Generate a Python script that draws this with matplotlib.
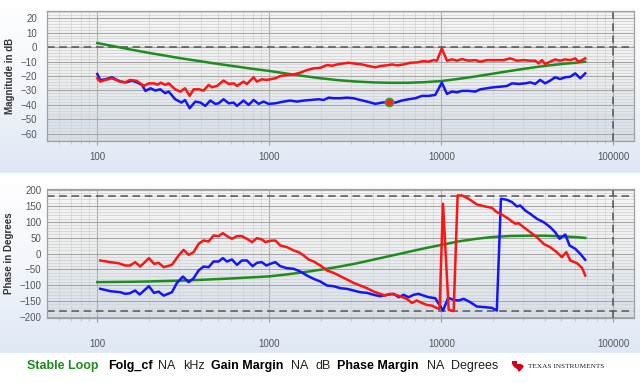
import numpy as np
import matplotlib
matplotlib.use("Agg")
import matplotlib.pyplot as plt
from matplotlib.colors import LinearSegmentedColormap
from matplotlib.ticker import LogLocator, MultipleLocator, FixedLocator, FixedFormatter, NullFormatter
import matplotlib.patches as mpatches

# ---------------- data (log10 of frequency in Hz, value) ----------------
red_mag_logf = [2.000, 2.017, 2.047, 2.085, 2.134, 2.163, 2.190, 2.230, 2.250, 2.270, 2.300, 2.330, 2.350, 2.370,
                2.395, 2.415, 2.453, 2.483, 2.510, 2.537, 2.560, 2.590, 2.618, 2.647, 2.667, 2.696, 2.734, 2.764,
                2.793, 2.812, 2.850, 2.870, 2.909, 2.928, 2.957, 2.986, 3.035, 3.064, 3.103, 3.142, 3.180, 3.219,
                3.258, 3.297, 3.336, 3.365, 3.394, 3.432, 3.461, 3.500, 3.539, 3.578, 3.617, 3.645, 3.684, 3.713,
                3.742, 3.781, 3.820, 3.858, 3.897, 3.926, 3.955, 3.975, 4.003, 4.033, 4.062, 4.091, 4.120, 4.159,
                4.198, 4.227, 4.265, 4.314, 4.362, 4.401, 4.440, 4.478, 4.517, 4.546, 4.566, 4.585, 4.604, 4.633,
                4.662, 4.691, 4.720, 4.750, 4.779, 4.798, 4.818, 4.837]
red_mag_db = [-21.6, -23.9, -22.7, -21.6, -23.9, -24.4, -22.7, -23.4, -25.1, -26.9, -25.1, -25.1, -26.0, -24.6,
              -26.2, -25.1, -29.2, -30.8, -28.5, -33.8, -29.2, -29.2, -30.1, -26.2, -27.8, -26.9, -23.2, -25.5,
              -25.1, -26.9, -23.9, -25.5, -20.9, -23.9, -22.3, -22.7, -21.6, -20.0, -19.3, -18.9, -17.7, -15.9,
              -14.7, -14.3, -12.4, -12.9, -12.0, -11.3, -10.8, -11.5, -12.0, -13.1, -14.0, -13.1, -12.6, -12.0,
              -12.6, -12.0, -10.8, -10.6, -9.7, -10.1, -9.0, -9.4, -0.9, -9.4, -8.5, -9.4, -8.3, -9.4,
              -9.0, -10.1, -9.0, -9.0, -9.0, -7.8, -9.4, -9.0, -9.4, -9.4, -11.3, -9.0, -11.7, -10.1,
              -8.5, -9.4, -8.5, -9.0, -7.8, -10.1, -9.0, -7.8]

blue_mag_logf = [2.000, 2.017, 2.047, 2.085, 2.134, 2.170, 2.200, 2.230, 2.260, 2.280, 2.310, 2.337, 2.366, 2.395,
                 2.415, 2.453, 2.490, 2.510, 2.537, 2.570, 2.600, 2.628, 2.657, 2.686, 2.705, 2.734, 2.764, 2.793,
                 2.812, 2.850, 2.880, 2.909, 2.938, 2.967, 2.996, 3.035, 3.084, 3.122, 3.161, 3.200, 3.239, 3.287,
                 3.316, 3.345, 3.374, 3.413, 3.452, 3.490, 3.529, 3.568, 3.617, 3.655, 3.694, 3.733, 3.771, 3.810,
                 3.849, 3.887, 3.926, 3.965, 4.003, 4.033, 4.062, 4.091, 4.120, 4.159, 4.198, 4.227, 4.265, 4.304,
                 4.343, 4.382, 4.411, 4.450, 4.488, 4.517, 4.546, 4.575, 4.604, 4.633, 4.662, 4.691, 4.720, 4.750,
                 4.779, 4.808, 4.837]
blue_mag_db = [-18.6, -22.8, -22.3, -20.9, -23.9, -24.4, -23.2, -24.4, -26.2, -30.3, -28.5, -30.1, -29.2, -31.9,
               -30.8, -36.1, -38.4, -36.6, -42.3, -37.7, -38.4, -40.7, -37.0, -39.3, -38.9, -36.1, -38.9, -38.4,
               -40.7, -37.0, -40.0, -36.6, -39.3, -37.7, -39.3, -38.9, -37.7, -37.0, -37.7, -37.0, -36.6, -36.1,
               -36.6, -35.0, -35.4, -35.4, -35.0, -35.4, -36.6, -37.7, -39.3, -38.4, -38.0, -38.4, -37.0, -36.1,
               -35.4, -33.8, -33.8, -33.1, -24.6, -32.4, -30.8, -31.3, -30.3, -30.3, -30.8, -29.2, -28.5, -27.8,
               -27.4, -26.9, -25.1, -25.5, -25.1, -24.4, -25.5, -22.7, -25.1, -23.2, -20.9, -22.1, -20.9, -20.5,
               -18.2, -21.6, -18.2]

green_mag_logf = [2.0, 2.1, 2.2, 2.3, 2.4, 2.5, 2.6, 2.7, 2.8, 2.9, 3.0, 3.1, 3.2, 3.3, 3.4, 3.5, 3.6, 3.7, 3.8,
                  3.9, 4.0, 4.1, 4.2, 4.3, 4.4, 4.5, 4.6, 4.7, 4.8, 4.837]
green_mag_db = [2.8, 0.5, -1.8, -4.0, -6.0, -8.0, -9.8, -11.6, -13.3, -15.0, -16.5, -18.3, -20.0, -21.6, -22.9,
                -23.8, -24.4, -24.7, -24.7, -24.3, -23.5, -22.0, -20.3, -18.4, -16.5, -14.7, -13.0, -11.7, -10.6,
                -10.1]

red_ph_logf = [2.017, 2.076, 2.124, 2.163, 2.190, 2.220, 2.250, 2.300, 2.330, 2.357, 2.386, 2.434, 2.473, 2.502,
               2.531, 2.560, 2.589, 2.618, 2.647, 2.676, 2.705, 2.730, 2.754, 2.783, 2.812, 2.841, 2.870, 2.900,
               2.928, 2.957, 2.977, 3.006, 3.035, 3.064, 3.103, 3.142, 3.171, 3.200, 3.229, 3.258, 3.297, 3.336,
               3.374, 3.413, 3.452, 3.490, 3.529, 3.568, 3.607, 3.645, 3.674, 3.703, 3.733, 3.762, 3.800, 3.829,
               3.858, 3.887, 3.916, 3.946, 3.975, 3.990, 4.010, 4.043, 4.072, 4.095, 4.120, 4.159, 4.207, 4.255,
               4.294, 4.323, 4.352, 4.391, 4.430, 4.449, 4.478, 4.517, 4.556, 4.595, 4.633, 4.672, 4.701, 4.727,
               4.750, 4.789, 4.818, 4.837]
red_ph_deg = [-22, -27.3, -30.5, -37.8, -37.8, -27.3, -41, -14.7, -32.5, -29.4, -43, -35.7, -6.3, 11.5,
              -4.2, 4.2, 30.4, 41, 37.8, 56.7, 54.6, 64, 54.6, 46.2, 54.6, 54.6, 46.2, 35.7,
              48.3, 44, 36, 40, 41, 25.2, 19.9, 9.4, 4.2, -6.3, -18.9, -25.2, -37.8, -53.5,
              -60.9, -71.4, -81.9, -92.4, -100.8, -109.2, -119.7, -127, -132.4, -127, -130, -134.5, -143, -155.5,
              -148, -155.5, -161.8, -164, -172, -174.5, 156.5, -177, -181.6, 182.7, 182.7, 172, 154.3, 148,
              143.8, 130, 122.8, 109, 93.5, 95.6, 83, 67.2, 51.4, 30.4, 19.9, 4.2, -11.6, 4.2,
              -22, -30.4, -45, -69.3]

blue_ph_logf = [2.017, 2.076, 2.134, 2.163, 2.190, 2.220, 2.246, 2.300, 2.330, 2.357, 2.386, 2.434, 2.463, 2.498,
                2.531, 2.560, 2.589, 2.618, 2.647, 2.676, 2.705, 2.730, 2.754, 2.783, 2.812, 2.841, 2.870, 2.903,
                2.928, 2.957, 2.983, 3.006, 3.035, 3.064, 3.103, 3.142, 3.180, 3.219, 3.258, 3.297, 3.336, 3.374,
                3.413, 3.452, 3.490, 3.529, 3.568, 3.607, 3.645, 3.684, 3.723, 3.752, 3.781, 3.810, 3.839, 3.868,
                3.897, 3.926, 3.965, 4.010, 4.040, 4.072, 4.100, 4.130, 4.168, 4.207, 4.255, 4.294, 4.323, 4.347,
                4.382, 4.411, 4.440, 4.459, 4.488, 4.517, 4.556, 4.595, 4.633, 4.662, 4.688, 4.721, 4.746, 4.779,
                4.808, 4.837]
blue_ph_deg = [-111, -118.6, -121.8, -127, -125, -116.5, -129, -103, -124, -120, -132.5, -122, -92.4, -72.5,
               -90.3, -77.7, -53.5, -41, -43, -25.2, -25.2, -14.7, -25.2, -18.9, -35.7, -22, -22, -39.9,
               -29.4, -27.3, -37.8, -32.5, -27.3, -39.9, -46.2, -48.3, -56.7, -69.3, -79.8, -88.2, -100.8, -103,
               -109.2, -111.3, -116.5, -121.8, -123.9, -130, -134.5, -130, -127, -137.5, -130, -137.5, -130, -127,
               -132.4, -137.5, -140.7, -179.5, -139.6, -146, -148, -142.7, -153, -166.9, -169, -171, -179.5, 172.3,
               169, 161.7, 148, 151, 135.4, 125, 109.2, 98.7, 83, 67.2, 46.2, 59.8, 25.2, 14.7,
               -1, -19.9]

green_ph_logf = [2.0, 2.1, 2.2, 2.3, 2.4, 2.5, 2.6, 2.7, 2.8, 2.9, 3.0, 3.1, 3.2, 3.3, 3.4, 3.5, 3.6, 3.7, 3.8,
                 3.9, 4.0, 4.1, 4.2, 4.3, 4.4, 4.5, 4.6, 4.7, 4.8, 4.837]
green_ph_deg = [-90, -89.5, -89, -88, -86.5, -85, -83, -80.5, -78, -75, -72, -66, -59, -51, -42, -32, -20, -8, 4,
                16, 27, 38, 46, 52, 55, 56, 56, 54, 51, 49]

marker_freq = [4940]
marker_db = [-37.7]

mag_ticks = [-60, -50, -40, -30, -20, -10, 0, 10, 20]
ph_ticks = [-200, -150, -100, -50, 0, 50, 100, 150, 200]
x_ticks = [100, 1000, 10000, 100000]
x_labels = ["100", "1000", "10000", "100000"]

legend_items = [("Stable Loop", "bold", "#1e8c1e", 27), ("Folg_cf", "bold", "black", 108),
                ("NA", "normal", "#222222", 158), ("kHz", "normal", "#222222", 183),
                ("Gain Margin", "bold", "black", 211), ("NA", "normal", "#222222", 291),
                ("dB", "normal", "#222222", 315), ("Phase Margin", "bold", "black", 337),
                ("NA", "normal", "#222222", 427), ("Degrees", "normal", "#222222", 451)]

# ---------------- figure ----------------
plt.rcParams['font.family'] = ['Liberation Sans', 'DejaVu Sans']
W, H = 640, 383
fig = plt.figure(figsize=(W / 100, H / 100), dpi=100)
fig.patch.set_facecolor('white')


def rect(x0, y0, x1, y1):
    return [x0 / W, 1 - y1 / H, (x1 - x0) / W, (y1 - y0) / H]


grad = np.linspace(0, 1, 256).reshape(-1, 1)
outer_cmap = LinearSegmentedColormap.from_list('outer', ['#ffffff', '#f3f6fb', '#dfe8f5'])
inner_cmap = LinearSegmentedColormap.from_list('inner', ['#f6f6f6', '#eceef0', '#d6e0ec'])

for (t, b) in [(0, 173), (180, 353)]:
    bg = fig.add_axes(rect(0, t, W, b), zorder=-10)
    bg.imshow(grad, aspect='auto', cmap=outer_cmap, extent=[0, 1, 0, 1], origin='upper')
    bg.axis('off')

PL, PR = 47, 634
panels = [(11, 141), (189, 318)]
axes = []
for (t, b) in panels:
    ib = fig.add_axes(rect(PL, t, PR, b), zorder=-5)
    ib.imshow(grad, aspect='auto', cmap=inner_cmap, extent=[0, 1, 0, 1], origin='upper')
    ib.axis('off')
    ax = fig.add_axes(rect(PL, t, PR, b), zorder=1)
    ax.set_facecolor('none')
    axes.append(ax)

ax1, ax2 = axes

for ax, xpad, ypad in [(ax1, 5, 7), (ax2, 12, 4)]:
    ax.set_xscale('log')
    ax.set_xlim(51, 132000)
    ax.xaxis.set_major_locator(FixedLocator(x_ticks))
    ax.xaxis.set_major_formatter(FixedFormatter(x_labels))
    ax.xaxis.set_minor_locator(LogLocator(base=10, subs=range(2, 10), numticks=20))
    ax.xaxis.set_minor_formatter(NullFormatter())
    ax.grid(which='major', axis='both', color='#a8a8a8', lw=0.8, zorder=0)
    ax.grid(which='minor', axis='both', color='#d4d4d4', lw=0.6, zorder=0)
    ax.set_axisbelow(True)
    for s in ax.spines.values():
        s.set_color('#a0a0a0')
        s.set_linewidth(0.9)
    ax.tick_params(axis='x', which='major', length=3, color='#999999', labelsize=7,
                   labelcolor='#555555', pad=xpad)
    ax.tick_params(axis='x', which='minor', length=2, color='#bbbbbb')
    ax.tick_params(axis='y', which='both', length=0, labelsize=7, labelcolor='#555555', pad=ypad)
    ax.axvline(1e5, color='#555555', lw=1.1, ls=(0, (5, 3)), zorder=2)

# magnitude
ax1.set_ylim(-65, 25)
ax1.yaxis.set_major_locator(FixedLocator(mag_ticks))
ax1.yaxis.set_minor_locator(MultipleLocator(2))
ax1.axhline(0, color='#555555', lw=1.1, ls=(0, (5, 3)), zorder=2)
ax1.plot(10 ** np.array(green_mag_logf), green_mag_db, color='#1e8c1e', lw=1.8, zorder=3)
ax1.plot(10 ** np.array(blue_mag_logf), blue_mag_db, color='#1414ff', lw=1.8, zorder=4)
ax1.plot(10 ** np.array(red_mag_logf), red_mag_db, color='#ff1414', lw=1.8, zorder=5)
ax1.plot(marker_freq, marker_db, 'o', color='#ff2020', mec='#3aa03a', ms=6, mew=1.0, zorder=6)
ax1.set_ylabel('Magnitude in dB', fontsize=7, fontweight='bold', color='#333333')
ax1.yaxis.set_label_coords((15 - PL) / (PR - PL), 0.5)

# phase
ax2.set_ylim(-203, 203)
ax2.yaxis.set_major_locator(FixedLocator(ph_ticks))
ax2.yaxis.set_minor_locator(MultipleLocator(10))
ax2.axhline(180, color='#555555', lw=1.1, ls=(0, (5, 3)), zorder=2)
ax2.axhline(-180, color='#555555', lw=1.1, ls=(0, (5, 3)), zorder=2)
ax2.plot(10 ** np.array(green_ph_logf), green_ph_deg, color='#1e8c1e', lw=1.8, zorder=3)
ax2.plot(10 ** np.array(blue_ph_logf), blue_ph_deg, color='#1414ff', lw=1.8, zorder=4)
ax2.plot(10 ** np.array(red_ph_logf), red_ph_deg, color='#ff1414', lw=1.8, zorder=5)
ax2.set_ylabel('Phase in Degrees', fontsize=7, fontweight='bold', color='#333333')
ax2.yaxis.set_label_coords((14 - PL) / (PR - PL), 0.5)

# legend line
ly = 1 - 366 / H
for text, weight, color, xp in legend_items:
    fig.text(xp / W, ly, text, fontsize=9, fontweight=weight, color=color, ha='left', va='center')

# TI logo
logo_pts = [(512, 361), (517, 361), (517, 364), (521, 364), (524, 366), (522, 369), (519, 372),
            (517, 369), (514, 367), (512, 364)]
logo = mpatches.Polygon([(x / W, 1 - y / H) for x, y in logo_pts], closed=True,
                        transform=fig.transFigure, facecolor='#d0021b', edgecolor='none')
fig.patches.append(logo)
fig.text(528 / W, 1 - 367 / H, 'TEXAS INSTRUMENTS', fontsize=5.2, family='Liberation Serif',
         color='#222222', ha='left', va='center')

fig.savefig('out.png', dpi=100, facecolor='white')
